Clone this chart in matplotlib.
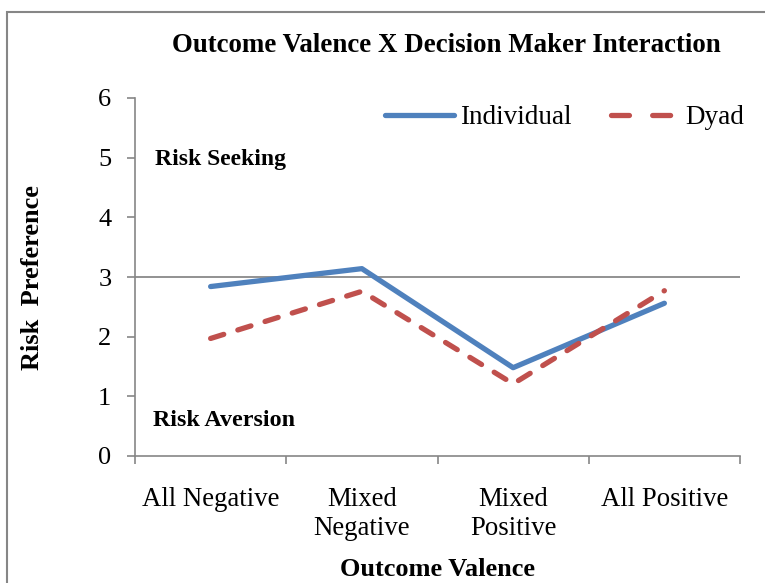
import matplotlib
matplotlib.use("Agg")
import matplotlib.pyplot as plt
from matplotlib.patches import Rectangle
from matplotlib.lines import Line2D

categories = ["All Negative", "Mixed\nNegative", "Mixed\nPositive", "All Positive"]
individual = [2.84, 3.14, 1.48, 2.56]
dyad = [1.97, 2.76, 1.21, 2.77]
y_ticks = [0, 1, 2, 3, 4, 5, 6]

plt.rcParams['font.family'] = ['Liberation Serif', 'DejaVu Serif']

W, H = 765, 583
fig = plt.figure(figsize=(W / 100, H / 100), dpi=100)
ax = fig.add_axes([135 / W, 1 - 456 / H, (740 - 135) / W, (456 - 98) / H])

x = list(range(len(categories)))
ax.plot(x, individual, color="#4F81BD", lw=3.8, solid_capstyle="round", label="Individual")
ax.plot(x, dyad, color="#C0504D", lw=3.8, dashes=(2.6, 2.8), dash_capstyle="round", label="Dyad")
ax.axhline(3, color="#7F7F7F", lw=1.2, zorder=0)

ax.set_xlim(-0.5, 3.5)
ax.set_ylim(0, 6)
ax.set_yticks(y_ticks)
ax.set_yticklabels([str(v) for v in y_ticks], fontsize=19)
ax.set_xticks([i + 0.5 for i in [-1] + x])
ax.set_xticklabels([])
ax.set_xticks(x, minor=True)
ax.set_xticklabels(categories, minor=True, fontsize=19.3, linespacing=1.25)
ax.tick_params(axis="x", which="minor", length=0, pad=22)
ax.tick_params(axis="x", which="major", length=6, color="#868686", width=1.2)
ax.tick_params(axis="y", length=6, color="#868686", width=1.2, direction="out", pad=11)

for s in ["top", "right"]:
    ax.spines[s].set_visible(False)
for s in ["left", "bottom"]:
    ax.spines[s].set_color("#868686")
    ax.spines[s].set_linewidth(1.2)

fig.text(155 / W, 1 - 159 / H, "Risk Seeking", fontsize=17, fontweight="bold", va="center", ha="left")
fig.text(153 / W, 1 - 420 / H, "Risk Aversion", fontsize=17.3, fontweight="bold", va="center", ha="left")

fig.text(446 / W, 1 - 46 / H, "Outcome Valence X Decision Maker Interaction", fontsize=19.4,
         fontweight="bold", ha="center", va="center")
fig.text(438 / W, 1 - 570 / H, "Outcome Valence", fontsize=19, fontweight="bold", ha="center", va="center")
fig.text(33 / W, 1 - 278 / H, "Risk  Preference", fontsize=19, fontweight="bold", ha="center", va="center",
         rotation=90)

handles = [Line2D([], [], color="#4F81BD", lw=3.8, solid_capstyle="round"),
           Line2D([], [], color="#C0504D", lw=3.8, dashes=(3.4, 4.4), dash_capstyle="round")]
fig.legend(handles, ["Individual", "Dyad"], loc="center right", bbox_to_anchor=(744 / W, 1 - 118 / H),
           ncol=2, frameon=False, fontsize=19.5, handlelength=2.55, handletextpad=0.2, columnspacing=1.45,
           borderaxespad=0, borderpad=0)

fig.add_artist(Rectangle((7 / W, -0.1), 1.2, 1 - 12 / H + 0.1, transform=fig.transFigure,
                         fill=False, edgecolor="#868686", lw=1.5))

fig.savefig("out.png", dpi=100)
